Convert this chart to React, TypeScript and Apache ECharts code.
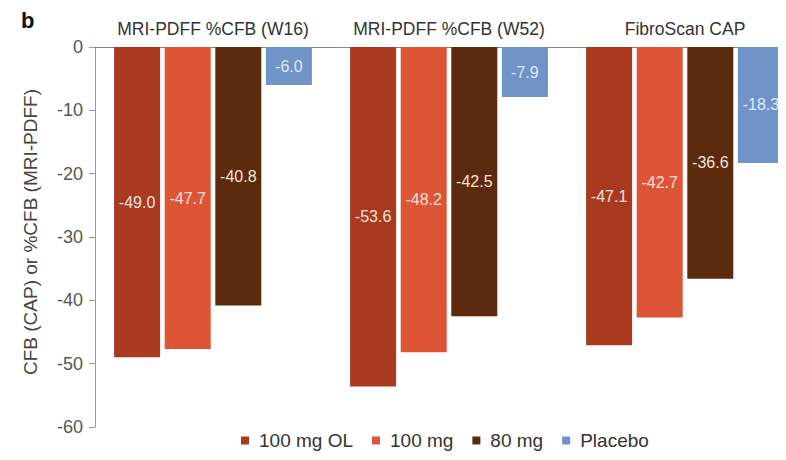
import React, { useEffect, useRef } from "react";
import * as echarts from "echarts";

const categories = ["MRI-PDFF %CFB (W16)", "MRI-PDFF %CFB (W52)", "FibroScan CAP"];
const seriesNames = ["100 mg OL", "100 mg", "80 mg", "Placebo"];
const ol100 = [-49.0, -53.6, -47.1];
const mg100 = [-47.7, -48.2, -42.7];
const mg80 = [-40.8, -42.5, -36.6];
const placebo = [-6.0, -7.9, -18.3];
const colors = ["#a9391f", "#de5535", "#5c2a0d", "#7094c8"];
const yTicks = { min: -60, max: 0, interval: 10 };

const FONT = "'Liberation Sans', Arial, sans-serif";

export default function App() {
  const ref = useRef<HTMLDivElement>(null);
  useEffect(() => {
    if (!ref.current) return;
    const chart = echarts.init(ref.current, undefined, { renderer: "svg" });
    const dataSets = [ol100, mg100, mg80, placebo];
    chart.setOption({
      animation: false,
      backgroundColor: "#ffffff",
      textStyle: { fontFamily: FONT },
      graphic: [
        {
          type: "text",
          left: 21,
          top: 9,
          style: { text: "b", fontSize: 22, fontWeight: "bold", fill: "#111", fontFamily: FONT },
        },
      ],
      legend: {
        data: seriesNames,
        left: 236,
        bottom: 5,
        itemWidth: 8,
        itemHeight: 8,
        itemGap: 19,
        icon: "rect",
        textStyle: { fontSize: 19, color: "#333", fontFamily: FONT, padding: [0, 0, 0, 5] },
      },
      grid: { left: 95, right: 0, top: 47, bottom: 33, containLabel: false },
      xAxis: {
        type: "category",
        data: categories,
        position: "top",
        axisLine: { lineStyle: { color: "#888", width: 1 } },
        axisTick: { show: false },
        axisLabel: { fontSize: 17.5, color: "#333", margin: 9, interval: 0, fontFamily: FONT },
      },
      yAxis: {
        type: "value",
        min: yTicks.min,
        max: yTicks.max,
        interval: yTicks.interval,
        name: "CFB (CAP) or %CFB (MRI-PDFF)",
        nameLocation: "middle",
        nameGap: 55,
        nameTextStyle: { fontSize: 19, color: "#444", fontFamily: FONT, padding: [0, 0, 0, 10] },
        axisLine: { show: true, lineStyle: { color: "#999" } },
        axisTick: { show: true, length: 6, lineStyle: { color: "#999" } },
        axisLabel: { fontSize: 18, color: "#555", margin: 12, fontFamily: FONT },
        splitLine: { show: false },
      },
      series: seriesNames.map((name, i) => ({
        name,
        type: "bar",
        data: dataSets[i],
        barWidth: 46,
        barGap: "10%",
        itemStyle: { color: colors[i] },
        label: {
          show: true,
          position: "inside",
          formatter: (p: any) => Number(p.value).toFixed(1),
          fontSize: 16,
          fontFamily: FONT,
          color: i === 3 ? "#dfe9f7" : "#f6e2da",
        },
      })),
    });
    return () => chart.dispose();
  }, []);
  return (
    <div style={{ width: 786, height: 460, margin: -8, overflow: "hidden", position: "relative" }}>
      <div ref={ref} style={{ width: 803, height: 460 }} />
    </div>
  );
}
